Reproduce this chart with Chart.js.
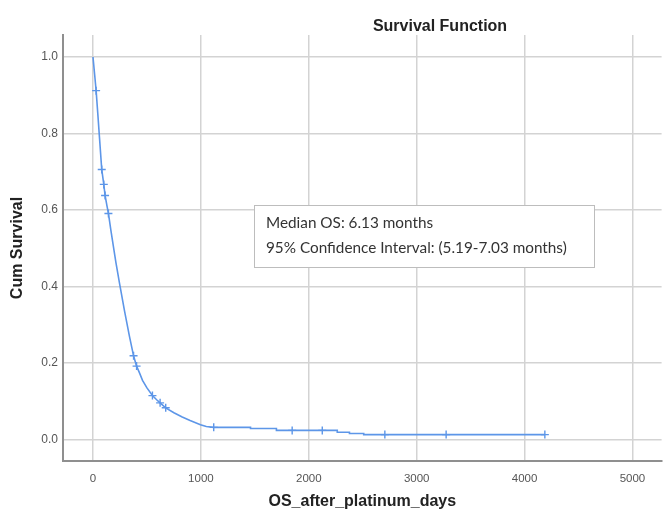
<!DOCTYPE html>
<html>
<head>
<meta charset="utf-8">
<script src="https://cdn.jsdelivr.net/npm/chart.js@4"></script>
<style>
  html, body { margin: 0; padding: 0; background: #ffffff; }
  #wrap { width: 667px; height: 514px; }
</style>
</head>
<body>
<div id="wrap"><canvas id="c" width="667" height="514"></canvas></div>
<script>
// ---- data ----
const chartTitle = "Survival Function";
const xAxisTitle = "OS_after_platinum_days";
const yAxisTitle = "Cum Survival";
const noteLines = ["Median OS: 6.13 months", "95% Confidence Interval: (5.19-7.03 months)"];

// Kaplan-Meier curve (days, cumulative survival)
const kmDays = [0, 15, 29, 45, 60, 81, 100, 112, 130, 143, 167, 190, 213, 246, 293, 338, 376, 404, 430, 459, 500, 551, 590, 622, 674, 750, 827, 900, 996, 1050, 1119, 1460, 1460, 1700, 1700, 1846, 2125, 2264, 2264, 2377, 2377, 2509, 2509, 2705, 3273, 4188];
const kmSurv = [1.000, 0.955, 0.912, 0.850, 0.790, 0.706, 0.667, 0.638, 0.610, 0.591, 0.545, 0.503, 0.462, 0.408, 0.335, 0.270, 0.219, 0.192, 0.175, 0.155, 0.135, 0.115, 0.104, 0.096, 0.083, 0.070, 0.059, 0.050, 0.039, 0.034, 0.032, 0.032, 0.029, 0.029, 0.024, 0.024, 0.024, 0.024, 0.019, 0.019, 0.016, 0.016, 0.013, 0.013, 0.013, 0.013];

// Censored observations
const censorDays = [29, 81, 100, 112, 143, 376, 404, 551, 622, 674, 1119, 1846, 2125, 2705, 3273, 4188];
const censorSurv = [0.912, 0.706, 0.667, 0.638, 0.591, 0.219, 0.192, 0.115, 0.096, 0.083, 0.032, 0.024, 0.024, 0.013, 0.013, 0.013];

// Axis ticks
const xTicks = [0, 1000, 2000, 3000, 4000, 5000];
const xTickLabels = ["0", "1000", "2000", "3000", "4000", "5000"];
const yTicks = [0.0, 0.2, 0.4, 0.6, 0.8, 1.0];
const yTickLabels = ["0.0", "0.2", "0.4", "0.6", "0.8", "1.0"];

// ---- chart ----
const curveColor = "#5d96e8";
const gridColor = "#d3d3d3";
const axisColor = "#8f8f8f";
const FONT = "'Liberation Sans', Arial, sans-serif";
const NOTE_FONT = "Lato, 'Open Sans', sans-serif";

const curveData = kmDays.map((d, i) => ({ x: d, y: kmSurv[i] }));
const censorData = censorDays.map((d, i) => ({ x: d, y: censorSurv[i] }));

const overlay = {
  id: "overlay",
  afterDraw(chart) {
    const ctx = chart.ctx;
    ctx.save();
    // Title
    ctx.fillStyle = "#222222";
    ctx.font = "bold 16px " + FONT;
    ctx.textAlign = "center";
    ctx.textBaseline = "middle";
    ctx.fillText(chartTitle, 440, 27);
    // Note box
    const bx = 254.5, by = 205.5, bw = 340, bh = 62;
    ctx.fillStyle = "#ffffff";
    ctx.fillRect(bx, by, bw, bh);
    ctx.strokeStyle = "#bdbdbd";
    ctx.lineWidth = 1;
    ctx.strokeRect(bx, by, bw, bh);
    // fit the note text width to the reference (~301px for the long line)
    ctx.font = "14px " + NOTE_FONT;
    const w = ctx.measureText(noteLines[1]).width;
    const size = Math.max(12, Math.min(17, 14 * 301 / w));
    ctx.font = size.toFixed(2) + "px " + NOTE_FONT;
    ctx.fillStyle = "#333333";
    ctx.textAlign = "left";
    ctx.textBaseline = "middle";
    ctx.fillText(noteLines[0], 266, 223);
    ctx.fillText(noteLines[1], 266, 248);
    ctx.restore();
  }
};

new Chart(document.getElementById("c"), {
  type: "scatter",
  data: {
    datasets: [
      {
        type: "line",
        data: curveData,
        borderColor: curveColor,
        borderWidth: 1.6,
        pointRadius: 0,
        fill: false,
        tension: 0,
        order: 2
      },
      {
        type: "scatter",
        data: censorData,
        pointStyle: "cross",
        pointRadius: 4,
        borderColor: curveColor,
        backgroundColor: curveColor,
        pointBorderWidth: 1.4,
        order: 1
      }
    ]
  },
  options: {
    responsive: false,
    animation: false,
    devicePixelRatio: 1,
    layout: { padding: { top: 35, right: 2, left: 0, bottom: 0 } },
    plugins: { legend: { display: false }, tooltip: { enabled: false }, title: { display: false } },
    scales: {
      x: {
        type: "linear",
        min: -278,
        max: 5270,
        afterFit(scale) { scale.height = 53; },
        afterBuildTicks(scale) { scale.ticks = xTicks.map(v => ({ value: v })); },
        grid: { color: gridColor, lineWidth: 1.5, drawTicks: false },
        border: { display: true, color: axisColor, width: 2 },
        ticks: {
          padding: 11,
          color: "#555555",
          font: { family: FONT, size: 11.5 },
          maxRotation: 0,
          callback: (v) => { const i = xTicks.indexOf(v); return i >= 0 ? xTickLabels[i] : ""; }
        },
        title: {
          display: true,
          text: xAxisTitle,
          color: "#222222",
          font: { family: FONT, size: 16, weight: "bold" },
          padding: { top: 0, bottom: 3 }
        }
      },
      y: {
        type: "linear",
        min: -0.056,
        max: 1.0575,
        afterFit(scale) { scale.width = 63; },
        afterBuildTicks(scale) { scale.ticks = yTicks.map(v => ({ value: v })); },
        grid: { color: gridColor, lineWidth: 1.5, drawTicks: false },
        border: { display: true, color: axisColor, width: 2 },
        ticks: {
          padding: 5,
          color: "#555555",
          font: { family: FONT, size: 12 },
          callback: (v) => { const i = yTicks.findIndex(t => Math.abs(t - v) < 1e-9); return i >= 0 ? yTickLabels[i] : ""; }
        },
        title: {
          display: true,
          text: yAxisTitle,
          color: "#222222",
          font: { family: FONT, size: 16, weight: "bold" },
          padding: { top: 8, bottom: 0 }
        }
      }
    }
  },
  plugins: [overlay]
});
</script>
</body>
</html>
